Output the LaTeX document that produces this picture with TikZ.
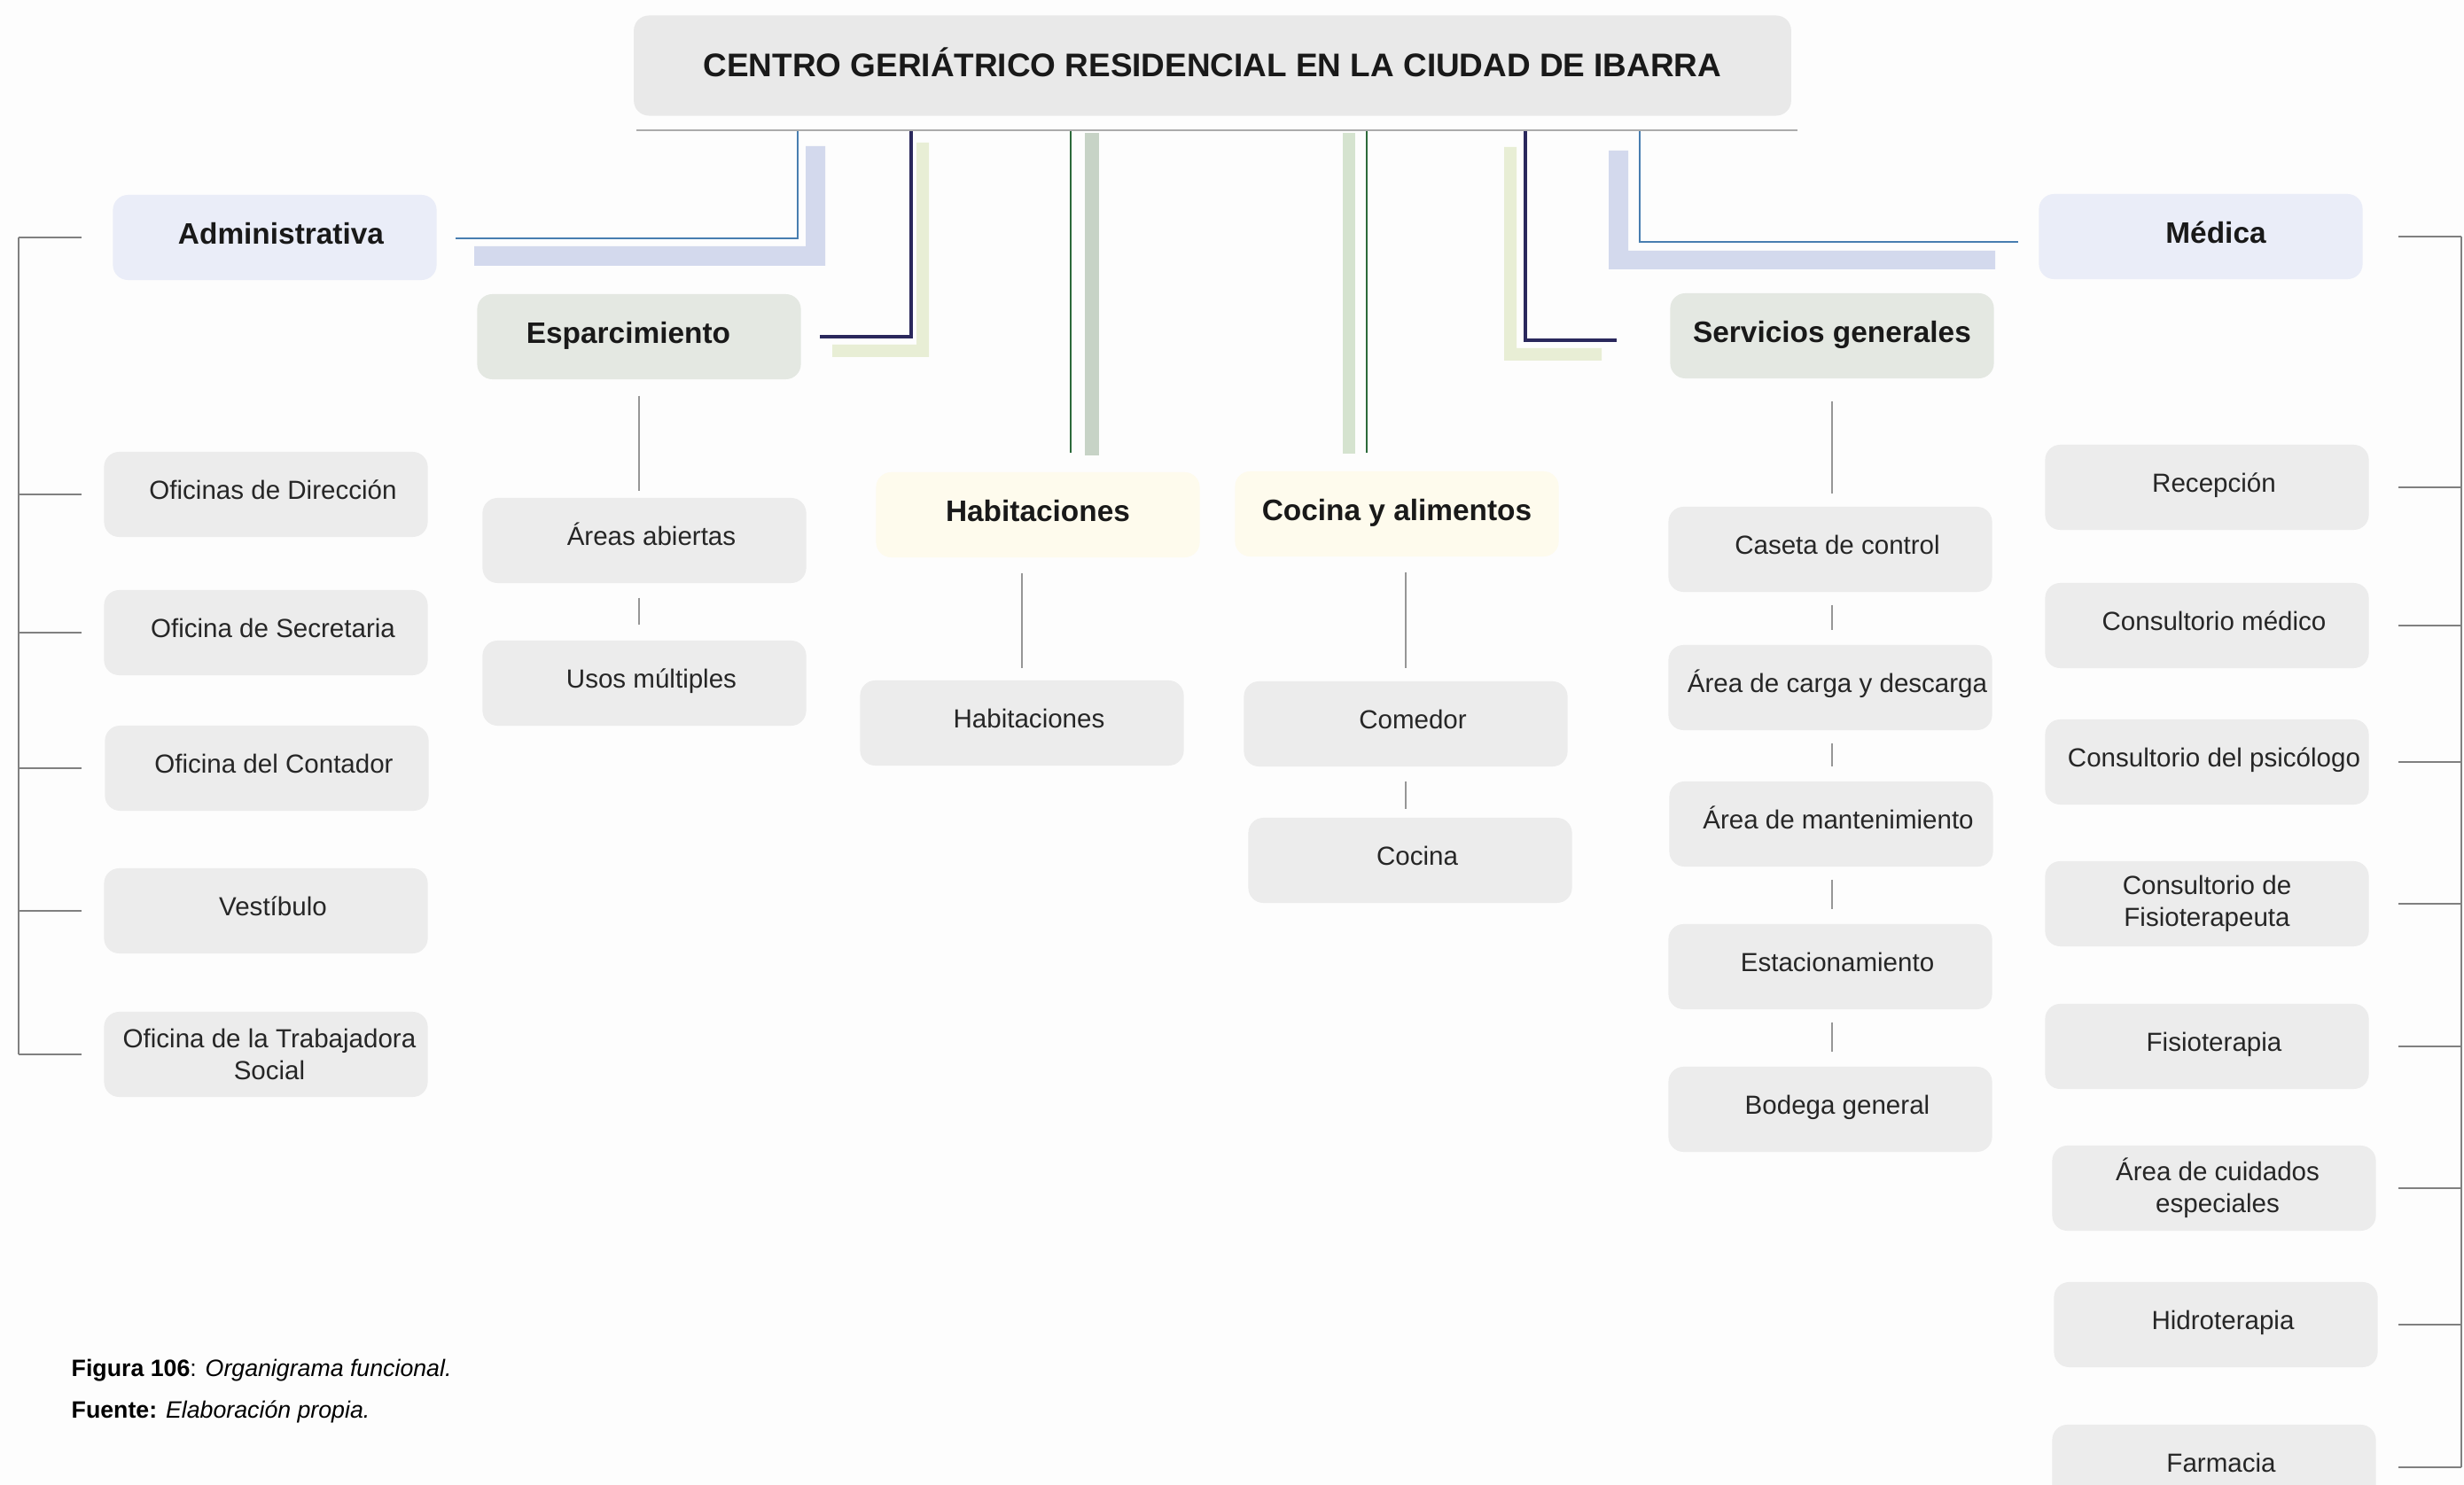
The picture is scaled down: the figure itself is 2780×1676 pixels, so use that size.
\documentclass[tikz,border=0pt]{standalone}
\usepackage{fontspec}
\setmainfont{Liberation Sans}
\usetikzlibrary{calc}
\definecolor{bgWhite}{RGB}{253,253,253}
\definecolor{boxGray}{RGB}{236,236,236}
\definecolor{titleGray}{RGB}{233,233,233}
\definecolor{lilac}{RGB}{234,237,248}
\definecolor{sage}{RGB}{228,232,226}
\definecolor{cream}{RGB}{254,251,237}
\definecolor{bandLilac}{RGB}{211,217,237}
\definecolor{bandLime}{RGB}{232,238,213}
\definecolor{bandSage}{RGB}{199,211,198}
\definecolor{bandMint}{RGB}{213,227,207}
\definecolor{lineBlue}{RGB}{72,126,176}
\definecolor{lineNavy}{RGB}{42,40,92}
\definecolor{lineGreen}{RGB}{44,106,58}
\definecolor{lineGray}{RGB}{150,150,150}
\tikzset{
  basebox/.style={rounded corners=0.17cm,fill=boxGray,minimum width=3.65cm,minimum height=0.96cm,inner xsep=0pt,inner ysep=2pt,align=center,text=black!85,font=\fontsize{8.4}{10.2}\selectfont},
  itembox/.style={basebox,text height=6pt,text depth=2.9pt,execute at begin node={\hspace*{0.16cm}}},
  twobox/.style={basebox,execute at begin node={\hspace*{0.08cm}}},
  headbox/.style={basebox,text=black!90,text height=6.8pt,text depth=2.6pt,font=\bfseries\fontsize{9.5}{11}\selectfont},
  gline/.style={draw=lineGray,line width=0.5pt},
  bline/.style={draw=lineGray!85!black,line width=0.5pt},
  captext/.style={anchor=west,inner sep=0pt,font=\fontsize{7.6}{9}\selectfont}
}

\begin{document}
\begin{tikzpicture}[x=0.01cm,y=-0.01cm]
\useasboundingbox (0,0) rectangle (2780,1676);
\clip (0,0) rectangle (2780,1676);
\fill[bgWhite] (0,0) rectangle (2780,1676);

% shadow bands behind the branches
\fill[bandLilac] (909,165) -- (931,165) -- (931,300) -- (535,300) -- (535,278) -- (909,278) -- cycle;
\fill[bandLime] (1034,161) -- (1048,161) -- (1048,403) -- (939,403) -- (939,389) -- (1034,389) -- cycle;
\fill[bandSage] (1224,150) rectangle (1240,514);
\fill[bandMint] (1515,150) rectangle (1529,512);
\fill[bandLime] (1697,166) -- (1711,166) -- (1711,393) -- (1807,393) -- (1807,407) -- (1697,407) -- cycle;
\fill[bandLilac] (1815,170) -- (1837,170) -- (1837,283) -- (2251,283) -- (2251,304) -- (1815,304) -- cycle;

% title
\node[basebox,fill=titleGray,minimum width=13.05cm,minimum height=1.13cm,text=black!90,text height=7.5pt,text depth=0.6pt,font=\bfseries\fontsize{10.5}{12}\selectfont] (title) at (1368,74) {CENTRO GERIÁTRICO RESIDENCIAL EN LA CIUDAD DE IBARRA};

% main areas
\node[headbox,fill=lilac] (adm) at (310,268) {\hspace*{0.14cm}Administrativa};
\node[headbox,fill=lilac] (med) at (2483,267) {\hspace*{0.34cm}Médica};
\node[headbox,fill=sage] (esp) at (721,380) {Esparcimiento\hspace*{0.24cm}};
\node[headbox,fill=sage] (serv) at (2067,379) {Servicios generales};
\node[headbox,fill=cream] (hab) at (1171,581) {Habitaciones};
\node[headbox,fill=cream] (coc) at (1576,580) {Cocina y alimentos};

% Administrativa
\node[itembox] (dir) at (300,558) {Oficinas de Dirección};
\node[itembox] (sec) at (300,714) {Oficina de Secretaria};
\node[itembox] (cont) at (301,867) {Oficina del Contador};
\node[itembox] (ves) at (300,1028) {Vestíbulo};
\node[twobox] (tra) at (300,1190) {Oficina de la Trabajadora\\Social};

% Esparcimiento
\node[itembox] (abi) at (727,610) {Áreas abiertas};
\node[itembox] (usos) at (727,771) {Usos múltiples};

% Habitaciones
\node[itembox] (habi) at (1153,816) {Habitaciones};

% Cocina y alimentos
\node[itembox] (com) at (1586,817) {Comedor};
\node[itembox] (cocn) at (1591,971) {Cocina};

% Servicios generales
\node[itembox] (caseta) at (2065,620) {Caseta de control};
\node[itembox] (carga) at (2065,776) {Área de carga y descarga};
\node[itembox] (mant) at (2066,930) {Área de mantenimiento};
\node[itembox] (est) at (2065,1091) {Estacionamiento};
\node[itembox] (bod) at (2065,1252) {Bodega general};

% Medica
\node[itembox] (rec) at (2490,550) {Recepción};
\node[itembox] (cmed) at (2490,706) {Consultorio médico};
\node[itembox] (psi) at (2490,860) {Consultorio del psicólogo};
\node[basebox] (fis) at (2490,1020) {Consultorio de\\Fisioterapeuta};
\node[itembox] (fia) at (2490,1181) {Fisioterapia};
\node[twobox] (cui) at (2498,1341) {Área de cuidados\\especiales};
\node[itembox] (hid) at (2500,1495) {Hidroterapia};
\node[itembox] (far) at (2498,1656) {Farmacia};

% branches from the title
\draw[draw=lineGray!80,line width=0.6pt] ($(title.south west)+(4,16)$) -- ($(title.south east)+(6,16)$);
\coordinate (kA) at (900,148);
\coordinate (kE) at (1028,148);
\coordinate (kH) at (1208,148);
\coordinate (kC) at (1542,148);
\coordinate (kS) at (1721,148);
\coordinate (kM) at (1850,148);
\draw[lineBlue,line width=0.6pt] (kA) |- ($(adm.east)+(21,1)$);
\draw[lineNavy,line width=1.2pt] (kE) |- ($(esp.east)+(21,0)$);
\draw[lineGreen,line width=0.6pt,shorten >=0.21cm] (kH) -- (kH |- hab.north);
\draw[lineGreen,line width=0.6pt,shorten >=0.2cm] (kC) -- (kC |- coc.north);
\draw[lineNavy,line width=1.2pt] (kS) |- ($(serv.west)+(-60,5)$);
\draw[lineBlue,line width=0.6pt] (kM) |- ($(med.west)+(-23,6)$);

% columns
\draw[gline,shorten <=0.18cm,shorten >=0.07cm] (esp.south) -- (esp.south |- abi.north);
\draw[gline,shorten <=0.16cm,shorten >=0.17cm] (abi.south -| esp.south) -- (usos.north -| esp.south);
\draw[gline,shorten <=0.17cm,shorten >=0.13cm] (habi.north |- hab.south) -- (habi.north);
\draw[gline,shorten <=0.17cm,shorten >=0.14cm] (com.north |- coc.south) -- (com.north);
\draw[gline,shorten <=0.16cm,shorten >=0.09cm] (com.south) -- (com.south |- cocn.north);
\draw[gline,shorten <=0.25cm,shorten >=0.14cm] (serv.south) -- (serv.south |- caseta.north);
\foreach \a/\b in {caseta/carga,carga/mant,mant/est,est/bod}
  \draw[gline,shorten <=0.14cm,shorten >=0.16cm] (serv.south |- \a.south) -- (serv.south |- \b.north);

% brackets
\coordinate (lbx) at (21,0);
\coordinate (lex) at (92,0);
\draw[bline] (adm -| lbx) -- (tra -| lbx);
\foreach \n in {adm,dir,sec,cont,ves,tra}
  \draw[bline] (\n -| lbx) -- (\n -| lex);
\coordinate (rbx) at (2777,0);
\coordinate (rex) at (2706,0);
\draw[bline] (med -| rbx) -- (far -| rbx);
\foreach \n in {med,rec,cmed,psi,fis,fia,cui,hid,far}
  \draw[bline] (\n -| rex) -- (\n -| rbx);

% caption
\node[captext] (fig) at (80,1547) {\textbf{Figura 106}: \textit{Organigrama funcional.}};
\node[captext] (src) at (80,1593) {\textbf{Fuente:} \textit{Elaboración propia.}};
\end{tikzpicture}
\end{document}
